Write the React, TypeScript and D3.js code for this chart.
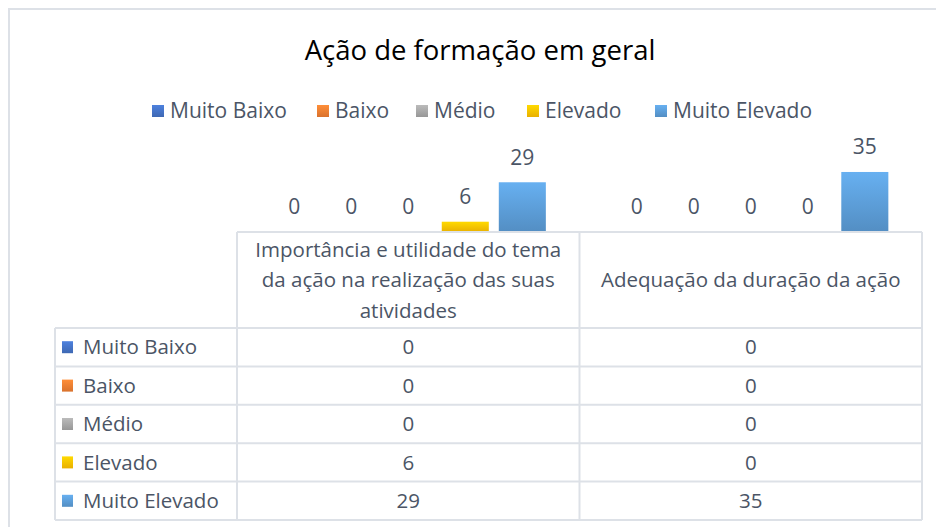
import React, { useEffect, useRef } from 'react';
import * as d3 from 'd3';

const categories = [
  'Importância e utilidade do tema da ação na realização das suas atividades',
  'Adequação da duração da ação',
];
const seriesNames = ['Muito Baixo', 'Baixo', 'Médio', 'Elevado', 'Muito Elevado'];
const seriesColors = ['#4472C4', '#ED7D31', '#A5A5A5', '#FFC000', '#5B9BD5'];
const seriesValues = [
  [0, 0],
  [0, 0],
  [0, 0],
  [6, 0],
  [29, 35],
];

const FONT = '"Open Sans", sans-serif';
const TEXT = '#4b5566';
const GRID = '#dde1e7';

export default function App() {
  const ref = useRef<SVGSVGElement>(null);

  useEffect(() => {
    const svg = d3.select(ref.current);
    svg.selectAll('*').remove();

    const width = 936;
    const height = 527;

    // gradients for bars and keys
    const defs = svg.append('defs');
    seriesColors.forEach((c, i) => {
      const g = defs
        .append('linearGradient')
        .attr('id', `grad${i}`)
        .attr('x1', 0)
        .attr('y1', 0)
        .attr('x2', 0)
        .attr('y2', 1);
      g.append('stop').attr('offset', '0%').attr('stop-color', d3.color(c)!.brighter(0.35).formatHex());
      g.append('stop').attr('offset', '100%').attr('stop-color', d3.color(c)!.darker(0.25).formatHex());
    });

    svg.append('rect').attr('width', width).attr('height', height).attr('fill', '#fff');

    // chart border
    svg
      .append('rect')
      .attr('x', 9)
      .attr('y', 9)
      .attr('width', 960)
      .attr('height', 560)
      .attr('fill', 'none')
      .attr('stroke', GRID)
      .attr('stroke-width', 2);

    svg
      .append('text')
      .attr('x', 480)
      .attr('y', 50)
      .attr('dy', '0.35em')
      .attr('text-anchor', 'middle')
      .style('font-family', FONT)
      .style('font-size', '27.5px')
      .style('fill', '#000')
      .text('Ação de formação em geral');

    // legend
    const legendX = [152, 317, 416, 527, 655];
    const legend = svg.append('g');
    seriesNames.forEach((name, i) => {
      legend
        .append('rect')
        .attr('x', legendX[i])
        .attr('y', 105)
        .attr('width', 12)
        .attr('height', 12)
        .attr('fill', `url(#grad${i})`);
      legend
        .append('text')
        .attr('x', legendX[i] + 18)
        .attr('y', 111)
        .attr('dy', '0.35em')
        .style('font-family', FONT)
        .style('font-size', '21px')
        .style('fill', TEXT)
        .text(name);
    });

    // plot
    const left = 237;
    const right = 922;
    const base = 232;

    const x0 = d3.scaleBand<number>().domain(d3.range(categories.length)).range([left, right]);
    const x1 = d3
      .scaleBand<number>()
      .domain(d3.range(seriesNames.length))
      .range([0, x0.bandwidth()])
      .paddingInner(0.175)
      .paddingOuter(0.59);
    const y = d3.scaleLinear().domain([0, 40]).range([base, base - 68.6]);

    const bars = svg.append('g');
    categories.forEach((_, ci) => {
      seriesNames.forEach((_, si) => {
        const v = seriesValues[si][ci];
        const bx = x0(ci)! + x1(si)!;
        bars
          .append('rect')
          .attr('x', bx)
          .attr('y', y(v))
          .attr('width', x1.bandwidth())
          .attr('height', base - y(v))
          .attr('fill', `url(#grad${si})`);
        bars
          .append('text')
          .attr('x', bx + x1.bandwidth() / 2)
          .attr('y', y(v) - 25)
          .attr('dy', '0.35em')
          .attr('text-anchor', 'middle')
          .style('font-family', FONT)
          .style('font-size', '21px')
          .style('fill', TEXT)
          .text(v);
      });
    });

    // data table
    const headerBottom = 328;
    const rowH = 38.4;
    const tableLeft = 55;
    const tableBottom = headerBottom + rowH * seriesNames.length;
    const table = svg.append('g').attr('stroke', GRID).attr('stroke-width', 2).attr('fill', 'none');

    table.append('line').attr('x1', left).attr('x2', right).attr('y1', base).attr('y2', base);
    d3.range(seriesNames.length + 1).forEach((r) => {
      const ly = headerBottom + r * rowH;
      table.append('line').attr('x1', tableLeft).attr('x2', right).attr('y1', ly).attr('y2', ly);
    });
    table.append('line').attr('x1', tableLeft).attr('x2', tableLeft).attr('y1', headerBottom).attr('y2', tableBottom);
    [left, x0(1)!, right].forEach((lx) => {
      table.append('line').attr('x1', lx).attr('x2', lx).attr('y1', base).attr('y2', tableBottom);
    });

    // header labels, wrapped
    categories.forEach((cat, ci) => {
      const cx = x0(ci)! + x0.bandwidth() / 2;
      const t = svg
        .append('text')
        .attr('text-anchor', 'middle')
        .style('font-family', FONT)
        .style('font-size', '20.5px')
        .style('fill', TEXT);
      const words = cat.split(' ');
      const lines: string[] = [];
      let cur: string[] = [];
      const probe = t.append('tspan');
      words.forEach((w) => {
        const test = [...cur, w].join(' ');
        probe.text(test);
        if ((probe.node() as SVGTSpanElement).getComputedTextLength() > x0.bandwidth() - 18 && cur.length) {
          lines.push(cur.join(' '));
          cur = [w];
        } else {
          cur.push(w);
        }
      });
      lines.push(cur.join(' '));
      probe.remove();
      const lh = 30.5;
      const midY = (base + headerBottom) / 2;
      lines.forEach((ln, li) => {
        t.append('tspan')
          .attr('x', cx)
          .attr('y', midY + (li - (lines.length - 1) / 2) * lh)
          .attr('dy', '0.35em')
          .text(ln);
      });
    });

    // rows
    seriesNames.forEach((name, si) => {
      const cy = headerBottom + si * rowH + rowH / 2;
      svg
        .append('rect')
        .attr('x', 62)
        .attr('y', cy - 6)
        .attr('width', 11)
        .attr('height', 12)
        .attr('fill', `url(#grad${si})`);
      svg
        .append('text')
        .attr('x', 83)
        .attr('y', cy)
        .attr('dy', '0.35em')
        .style('font-family', FONT)
        .style('font-size', '20.5px')
        .style('fill', TEXT)
        .text(name);
      categories.forEach((_, ci) => {
        svg
          .append('text')
          .attr('x', x0(ci)! + x0.bandwidth() / 2)
          .attr('y', cy)
          .attr('dy', '0.35em')
          .attr('text-anchor', 'middle')
          .style('font-family', FONT)
          .style('font-size', '20.5px')
          .style('fill', TEXT)
          .text(seriesValues[si][ci]);
      });
    });
  }, []);

  return (
    <svg
      ref={ref}
      width={936}
      height={527}
      style={{ position: 'absolute', left: 0, top: 0 }}
    />
  );
}
